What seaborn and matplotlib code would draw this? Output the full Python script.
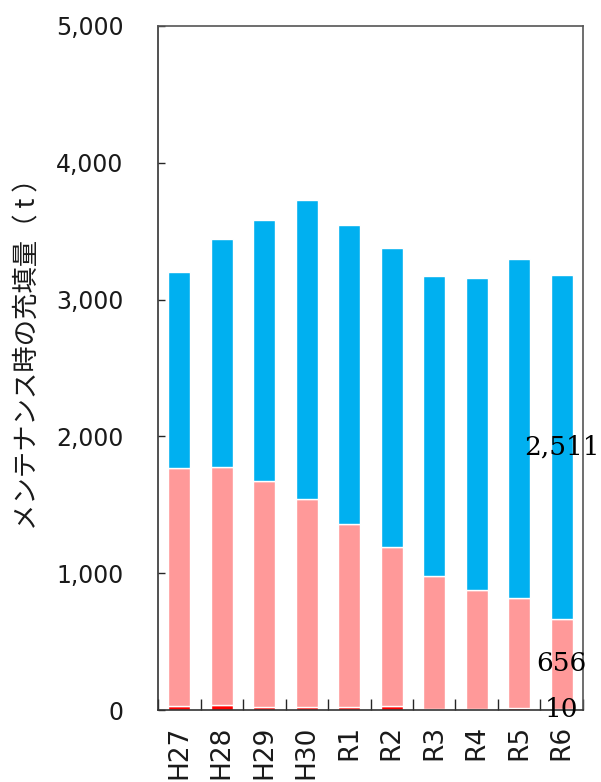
import pandas as pd
import seaborn as sns
import matplotlib.pyplot as plt
from matplotlib.ticker import FuncFormatter, FixedLocator

# 年度
years = ['H27', 'H28', 'H29', 'H30', 'R1', 'R2', 'R3', 'R4', 'R5', 'R6']
# 系列ごとの値（t）
red_vals = [30, 40, 25, 25, 25, 30, 10, 10, 15, 10]
pink_vals = [1741, 1738, 1651, 1520, 1338, 1165, 967, 865, 801, 656]
blue_vals = [1429, 1662, 1904, 2180, 2182, 2180, 2198, 2285, 2479, 2511]

df = pd.DataFrame({'year': years, 'red': red_vals, 'pink': pink_vals, 'blue': blue_vals})
df['pink_bottom'] = df['red']
df['blue_bottom'] = df['red'] + df['pink']

sns.set_style('white')
plt.rcParams['font.family'] = ['DejaVu Sans']

fig = plt.figure(figsize=(6.01, 7.82), dpi=100)
ax = fig.add_axes([0.263, 0.092, 0.707, 0.875])

w = 0.52
sns.barplot(data=df, x='year', y='red', color='#FF0000', width=w, saturation=1, ax=ax)
sns.barplot(data=df, x='year', y='pink', bottom=df['pink_bottom'], color='#FF9999',
            width=w, saturation=1, ax=ax)
sns.barplot(data=df, x='year', y='blue', bottom=df['blue_bottom'], color='#00B0F0',
            width=w, saturation=1, ax=ax)

# 最新年度だけ値ラベル
for cont, vals in zip(ax.containers, [red_vals, pink_vals, blue_vals]):
    labels = [''] * (len(vals) - 1) + [f'{vals[-1]:,}']
    ax.bar_label(cont, labels=labels, label_type='center', fontsize=19,
                 family='DejaVu Serif', color='black')

ax.set_xlim(-0.5, len(years) - 0.5)
ax.set_ylim(0, 5000)
ax.set_yticks(range(0, 5001, 1000))
ax.yaxis.set_major_formatter(FuncFormatter(lambda v, p: f'{int(v):,}'))

ax.tick_params(axis='y', direction='in', length=5, width=1, pad=25,
               labelsize=17, labelcolor='#1a1a1a', left=True)
ax.tick_params(axis='x', which='major', length=0, pad=11, labelsize=19,
               labelcolor='#1a1a1a', labelrotation=90)
ax.xaxis.set_minor_locator(FixedLocator([i + 0.5 for i in range(-1, len(years))]))
ax.tick_params(axis='x', which='minor', direction='in', length=8, width=1, bottom=True)

ax.set_xlabel('')
ax.set_ylabel('メンテナンス時の充填量（ t ）', fontsize=19,
              family=['Noto Sans CJK JP', 'DejaVu Sans'], color='#1a1a1a')
ax.yaxis.set_label_coords(-0.275, 0.53)

for side in ['left', 'bottom', 'top', 'right']:
    ax.spines[side].set_visible(True)
    ax.spines[side].set_linewidth(1.2)
ax.spines['left'].set_color('#333333')
ax.spines['bottom'].set_color('#333333')
ax.spines['top'].set_color('#555555')
ax.spines['right'].set_color('#555555')

plt.savefig('out.png', dpi=100)
